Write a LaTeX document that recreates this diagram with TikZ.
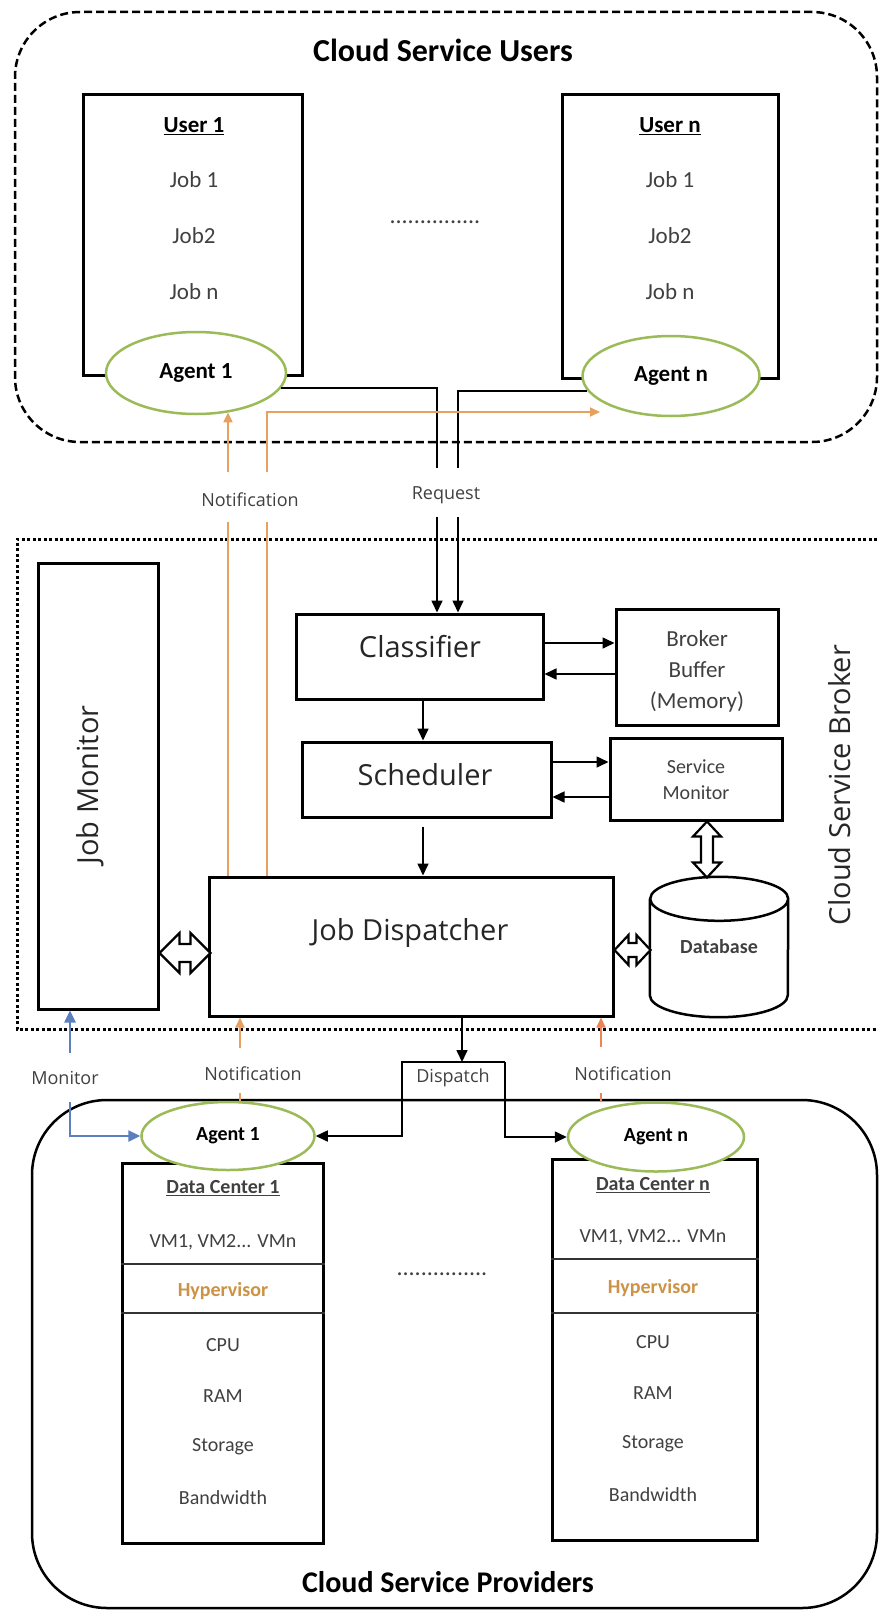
\documentclass[tikz,border=0pt]{standalone}
\usepackage{fontspec}
\setmainfont{Carlito}
\newfontfamily\opensans{Open Sans}
\usetikzlibrary{arrows.meta, positioning, shapes.geometric}

\definecolor{agentgreen}{HTML}{9BBB59}
\definecolor{noteorange}{HTML}{E8A060}
\definecolor{notered}{HTML}{EE8355}
\definecolor{monblue}{HTML}{5B7FBF}
\definecolor{hypgold}{HTML}{CC9245}
\definecolor{softtext}{HTML}{404040}

\begin{document}
\begin{tikzpicture}[x=1pt, y=-1pt,
    box/.style={draw=black, line width=3pt, inner sep=0pt},
    agent/.style={ellipse, draw=agentgreen, line width=2.5pt, fill=white, inner sep=0pt, font=\bfseries\fontsize{23}{27}\selectfont},
    itemtxt/.style={text=softtext, font=\fontsize{23}{27}\selectfont},
    dctxt/.style={text=softtext, font=\fontsize{20}{24}\selectfont},
    tagtxt/.style={text=softtext, font=\opensans\fontsize{18}{22}\selectfont},
    parttxt/.style={text=black!85, font=\opensans\fontsize{29}{34}\selectfont},
    headtxt/.style={font=\bfseries\fontsize{32}{38}\selectfont},
    conwire/.style={draw=black, line width=1.6pt},
    endtip/.style={-{Triangle[length=12pt, width=11pt]}},
    notewire/.style={draw=noteorange, line width=2pt},
    notetip/.style={-{Triangle[length=10pt, width=9pt]}},
    monwire/.style={draw=monblue, line width=2.5pt},
    hollowarrow/.style={draw=black, line width=2.2pt, fill=white, line join=miter},
    sepline/.style={draw=black!80, line width=2pt}
  ]
  \useasboundingbox (0,0) rectangle (881,1611);

  % Cloud Service Users
  \node[box, line width=2.5pt, dash pattern=on 8pt off 4pt, rounded corners=65pt, minimum width=862pt, minimum height=430pt] (users) at (446,227) {};
  \node[headtxt] (userstitle) at (443,50) {Cloud Service Users};

  % User 1
  \node[box, minimum width=219pt, minimum height=281pt] (user1) at (192.5,234.5) {};
  \node[itemtxt, text=black, font=\bfseries\fontsize{23}{27}\selectfont] (user1name) at (194,126) {\underline{User 1}};
  \foreach \t [count=\i] in {Job 1, Job2, Job n}
    \node[itemtxt] (user1job\i) at (194,124+56*\i) {\t};
  \node[agent, minimum width=180pt, minimum height=82pt] (agent1u) at (196,373) {Agent 1};

  % User n
  \node[box, minimum width=216pt, minimum height=284pt] (usern) at (670,236) {};
  \node[itemtxt, text=black, font=\bfseries\fontsize{23}{27}\selectfont] (usernname) at (670,126) {\underline{User n}};
  \foreach \t [count=\i] in {Job 1, Job2, Job n}
    \node[itemtxt] (usernjob\i) at (670,124+56*\i) {\t};
  \node[agent, minimum width=177pt, minimum height=80pt] (agentnu) at (671,376) {Agent n};

  \node[itemtxt, font=\fontsize{24}{28}\selectfont] (userdots) at (435,222) {...............};

  % Cloud Service Broker
  \draw[box, dash pattern=on 3pt off 2.5pt] (877,539) -- (17,539) -- (17,1029) -- (877,1029);
  \node[parttxt, rotate=90] (brokertitle) at (840,785) {Cloud Service Broker};

  \node[box, minimum width=120pt, minimum height=446pt] (jobmon) at (98,786) {};
  \node[parttxt, rotate=90] (jobmontxt) at (90,785) {Job Monitor};

  \node[box, minimum width=247pt, minimum height=85pt] (classifier) at (419.5,656.5) {};
  \node[parttxt] (classifiertxt) at (420,647) {Classifier};
  \node[box, minimum width=162pt, minimum height=116pt] (buffer) at (697,667) {};
  \node[itemtxt, align=center, font=\fontsize{23}{31}\selectfont] (buffertxt) at (697,671) {Broker\\Buffer\\(Memory)};

  \node[box, minimum width=249pt, minimum height=75pt] (scheduler) at (426.5,779.5) {};
  \node[parttxt] (schedulertxt) at (425,775) {Scheduler};
  \node[box, minimum width=172pt, minimum height=82pt] (servmon) at (696,779) {};
  \node[itemtxt, align=center, font=\fontsize{20}{26}\selectfont] (servmontxt) at (696,780) {Service\\Monitor};

  \node[box, minimum width=404pt, minimum height=139pt] (jobdisp) at (411,946.5) {};
  \node[parttxt] (jobdisptxt) at (410,933) {Job Dispatcher};

  % Database
  \node[text=softtext, font=\bfseries\fontsize{20}{24}\selectfont, minimum width=138pt, minimum height=140pt, inner sep=0pt] (database) at (719,947) {Database};
  \draw[box, line width=2.5pt] ([yshift=-22pt]database.north west) -- ([yshift=22pt]database.south west)
    arc[start angle=180, end angle=360, x radius=69pt, y radius=22pt]
    -- ([yshift=-22pt]database.north east)
    arc[start angle=0, end angle=360, x radius=69pt, y radius=22pt];

  % Hollow double arrows
  \draw[hollowarrow] (jobmon.east |- 0,953) -- ++(20,-20) -- ++(0,11) -- ++(11,0) -- ++(0,-11)
    -- ++(20,20) -- ++(-20,20) -- ++(0,-11) -- ++(-11,0) -- ++(0,11) -- cycle;
  \draw[hollowarrow] (jobdisp.east |- 0,950) -- ++(14,-15) -- ++(0,8) -- ++(8,0) -- ++(0,-8)
    -- ++(14,15) -- ++(-14,15) -- ++(0,-8) -- ++(-8,0) -- ++(0,8) -- cycle;
  \draw[hollowarrow] (servmon.south -| 707,0) -- ++(-14,15) -- ++(8,0) -- ++(0,26) -- ++(-8,0)
    -- ++(14,15) -- ++(14,-15) -- ++(-8,0) -- ++(0,-26) -- ++(8,0) -- cycle;

  % Request
  \coordinate (reqA1) at (437,468);
  \coordinate (reqA2) at (437,517);
  \coordinate (reqB1) at (458,468);
  \coordinate (reqB2) at (458,517);
  \draw[conwire] (agent1u.-10) -| (reqA1);
  \draw[conwire, endtip] (reqA2) -- (reqA2 |- classifier.north);
  \draw[conwire] (agentnu.190) -| (reqB1);
  \draw[conwire, endtip] (reqB2) -- (reqB2 |- classifier.north);
  \node[tagtxt] (reqlabel) at (446,495) {Request};

  % Notification to users
  \coordinate (noteA1) at (228,522);
  \coordinate (noteA2) at (228,472);
  \coordinate (noteB1) at (267,522);
  \coordinate (noteB2) at (267,472);
  \coordinate (noteBtip) at (600,412);
  \draw[notewire] (jobdisp.north -| noteA1) -- (noteA1);
  \draw[notewire, notetip] (noteA2) -- (noteA2 |- agent1u.-50);
  \draw[notewire] (jobdisp.north -| noteB1) -- (noteB1);
  \draw[notewire, notetip] (noteB2) |- (noteBtip);
  \node[tagtxt] (notelabel1) at (250,500) {Notification};

  % Broker internal flow
  \draw[conwire, endtip] (classifier.east |- 0,643) -- (buffer.west |- 0,643);
  \draw[conwire, endtip] (buffer.west |- 0,674) -- (classifier.east |- 0,674);
  \draw[conwire, endtip] (classifier.south -| 423,0) -- (scheduler.north -| 423,0);
  \draw[conwire, endtip] (scheduler.east |- 0,762) -- (servmon.west |- 0,762);
  \draw[conwire, endtip] (servmon.west |- 0,797) -- (scheduler.east |- 0,797);
  \draw[conwire, endtip, shorten <=8pt] (scheduler.south -| 423,0) -- (jobdisp.north -| 423,0);

  % Cloud Service Providers
  \node[box, line width=2.5pt, rounded corners=75pt, minimum width=845pt, minimum height=508pt] (providers) at (454.5,1354) {};
  \node[headtxt, font=\bfseries\fontsize{30}{36}\selectfont] (providerstitle) at (448,1582) {Cloud Service Providers};

  % Data Center 1
  \node[box, minimum width=201pt, minimum height=380pt] (dc1) at (222.5,1353) {};
  \draw[sepline] (dc1.west |- 0,1264) -- (dc1.east |- 0,1264);
  \draw[sepline] (dc1.west |- 0,1313) -- (dc1.east |- 0,1313);
  \node[dctxt, font=\bfseries\fontsize{20}{24}\selectfont] (dc1name) at (223,1188) {\underline{Data Center 1}};
  \node[dctxt] (dc1vm) at (223,1242) {VM1, VM2... VMn};
  \node[dctxt, text=hypgold, font=\bfseries\fontsize{20}{24}\selectfont] (dc1hyp) at (223,1291) {Hypervisor};
  \foreach \t [count=\i] in {CPU, RAM, Storage, Bandwidth}
    \node[dctxt] (dc1res\i) at (223,1294+51*\i) {\t};
  \node[agent, minimum width=173pt, minimum height=68pt, font=\bfseries\fontsize{20}{24}\selectfont] (agent1d) at (228,1136) {Agent 1};

  % Data Center n
  \node[box, minimum width=205pt, minimum height=381pt] (dcn) at (654.5,1349.5) {};
  \draw[sepline] (dcn.west |- 0,1259) -- (dcn.east |- 0,1259);
  \draw[sepline] (dcn.west |- 0,1313) -- (dcn.east |- 0,1313);
  \node[dctxt, font=\bfseries\fontsize{20}{24}\selectfont] (dcnname) at (653,1185) {\underline{Data Center n}};
  \node[dctxt] (dcnvm) at (653,1237) {VM1, VM2... VMn};
  \node[dctxt, text=hypgold, font=\bfseries\fontsize{20}{24}\selectfont] (dcnhyp) at (653,1288) {Hypervisor};
  \foreach \t [count=\i] in {CPU, RAM, Storage, Bandwidth}
    \node[dctxt] (dcnres\i) at (653,1291+51*\i) {\t};
  \node[agent, minimum width=176pt, minimum height=69pt, font=\bfseries\fontsize{20}{24}\selectfont] (agentnd) at (656,1137) {Agent n};

  \node[itemtxt, font=\fontsize{24}{28}\selectfont] (providerdots) at (442,1274) {...............};

  % Monitor
  \coordinate (monA) at (70,1053);
  \coordinate (monB) at (70,1102);
  \draw[monwire, endtip] (monA) -- (monA |- jobmon.south);
  \draw[monwire, endtip] (monB) |- (agent1d.west);
  \node[tagtxt] (monlabel) at (65,1078) {Monitor};

  % Notification from providers
  \coordinate (noteC1) at (240,1048);
  \coordinate (noteC2) at (240,1093);
  \coordinate (noteD1) at (601,1047);
  \coordinate (noteD2) at (601,1093);
  \draw[notewire, notetip] (noteC1) -- (noteC1 |- jobdisp.south);
  \draw[notewire, line width=1.2pt] (noteC2) -- (noteC2 |- agent1d.north);
  \draw[notewire, draw=notered, notetip] (noteD1) -- (noteD1 |- jobdisp.south);
  \draw[notewire, draw=notered, line width=1.2pt] (noteD2) -- (noteD2 |- agentnd.north);
  \node[tagtxt] (notelabel2) at (253,1074) {Notification};
  \node[tagtxt] (notelabel3) at (623,1074) {Notification};

  % Dispatch
  \coordinate (disptop) at (462,1062);
  \coordinate (displeft) at (402,1062);
  \coordinate (dispright) at (505,1062);
  \draw[conwire, endtip] (jobdisp.south -| disptop) -- (disptop);
  \draw[conwire, endtip] (dispright) -- (displeft) |- (agent1d.east);
  \draw[conwire, endtip] (dispright) |- (agentnd.west);
  \node[tagtxt] (displabel) at (453,1078) {Dispatch};
\end{tikzpicture}
\end{document}
